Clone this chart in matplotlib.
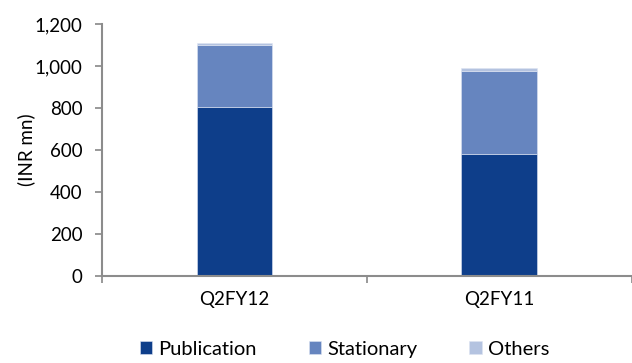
import matplotlib.pyplot as plt
import numpy as np
from matplotlib.ticker import FuncFormatter

plt.rcParams["font.family"] = ["Lato", "DejaVu Sans"]

categories = ["Q2FY12", "Q2FY11"]
publication = [803, 580]
stationary = [295, 397]
others = [13, 13]

series = [
    ("Publication", publication, "#0e3e8a"),
    ("Stationary", stationary, "#6685bf"),
    ("Others", others, "#b4c3e0"),
]

fig = plt.figure(figsize=(6.32, 3.63), dpi=100)
ax = fig.add_axes([0.1614, 0.2405, 0.838, 0.6934])

x = np.arange(len(categories)) + 0.5
bottom = np.zeros(len(categories))
for name, vals, color in series:
    ax.bar(x, vals, width=0.286, bottom=bottom, color=color, label=name,
           edgecolor="#dde4f2", linewidth=0.4)
    bottom += np.array(vals)

ax.set_xlim(0, 2)
ax.set_ylim(0, 1200)
ax.set_yticks(np.arange(0, 1201, 200))
ax.yaxis.set_major_formatter(FuncFormatter(lambda v, p: f"{int(v):,}"))
ax.set_xticks([0, 1, 2])
ax.set_xticklabels([])
ax.set_xticks(x, minor=True)
ax.set_xticklabels(categories, minor=True)
ax.tick_params(axis="x", which="minor", length=0, pad=11, labelsize=13.5)
ax.tick_params(axis="x", which="major", length=5, width=1.2, color="#888888", direction="out")
ax.tick_params(axis="y", length=5, width=1.2, color="#888888", labelsize=13.5, pad=9)

for s in ["top", "right"]:
    ax.spines[s].set_visible(False)
for s in ["left", "bottom"]:
    ax.spines[s].set_color("#8c8c8c")
    ax.spines[s].set_linewidth(1.5)

ax.set_ylabel("(INR mn)", fontsize=13.5, labelpad=0)

fig.legend(loc="lower center", bbox_to_anchor=(0.545, -0.035), ncol=3, frameon=False,
           fontsize=14.5, handlelength=0.6, handleheight=0.6, handletextpad=0.3,
           columnspacing=2.6)

fig.savefig("out.png", dpi=100)
